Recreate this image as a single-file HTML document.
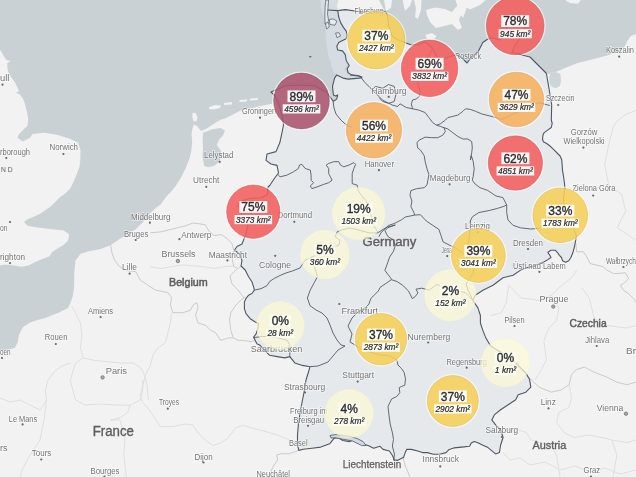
<!DOCTYPE html><html><head><meta charset="utf-8"><style>html,body{margin:0;padding:0;background:#f2f2f2;overflow:hidden}svg{display:block;filter:blur(0.35px)}text{font-family:"Liberation Sans",sans-serif}</style></head><body>
<svg width="636" height="477" viewBox="0 0 636 477">
<rect width="636" height="477" fill="#c9d1d4"/>
<polygon points="0.0,477.0 0.0,351.4 7.5,350.0 15.0,347.7 17.6,342.6 18.9,335.0 22.6,327.5 30.0,322.5 37.7,320.0 45.3,318.0 57.9,313.0 68.0,308.0 70.4,303.0 73.0,295.6 74.2,285.5 74.2,273.0 75.5,260.4 80.5,254.0 88.0,251.6 100.6,249.0 110.7,245.3 120.0,238.7 127.9,234.0 135.7,229.3 143.6,221.4 149.9,213.6 154.6,208.9 160.9,204.2 166.3,196.4 170.5,192.2 175.7,186.0 181.0,177.6 185.2,169.2 189.4,158.7 191.4,150.3 192.2,141.9 191.5,134.0 192.5,128.0 193.8,124.6 197.0,126.0 201.0,131.0 206.0,129.0 212.0,125.0 220.0,120.0 226.0,118.0 231.0,115.4 240.0,110.8 249.2,108.5 260.7,106.1 268.0,104.5 272.2,103.8 274.0,98.0 271.0,92.0 285.0,86.0 300.0,85.0 315.0,86.0 326.0,92.0 332.5,100.1 333.5,101.2 336.7,99.1 337.7,94.9 335.6,95.9 333.5,94.9 333.0,91.7 332.5,86.5 333.5,82.3 334.6,78.1 336.7,74.9 343.0,78.1 348.2,79.1 353.5,78.6 358.7,78.1 361.9,77.6 361.9,77.0 357.7,75.5 351.4,74.9 348.2,72.8 347.2,68.6 349.3,65.5 347.2,62.3 346.2,60.4 345.3,54.7 342.5,50.9 337.7,50.0 336.8,46.2 338.7,42.5 342.5,40.6 346.2,38.7 347.2,34.9 346.2,31.1 343.4,27.4 340.6,22.6 338.7,17.0 337.7,11.3 337.0,5.0 338.0,0.0 379.0,0.0 384.0,10.0 388.7,25.0 392.0,36.0 396.6,39.3 403.0,41.7 410.8,44.8 418.0,45.0 424.0,42.0 428.0,44.0 432.0,48.0 436.0,55.0 440.0,62.0 446.0,58.0 452.0,56.0 457.6,55.0 462.3,58.2 467.0,63.0 471.8,56.6 478.0,52.0 482.8,42.5 487.5,39.3 492.0,38.0 500.0,40.0 505.0,30.0 510.0,22.0 518.0,20.0 525.0,28.0 520.0,38.0 515.0,45.0 512.0,52.8 520.0,54.5 530.0,57.0 537.0,64.0 542.0,69.0 546.0,73.0 548.8,74.3 557.6,71.3 565.0,68.0 577.6,63.0 590.0,60.0 597.4,58.1 606.4,55.8 615.5,52.8 621.5,49.8 624.5,46.8 627.5,40.8 630.6,36.2 636.0,34.0 636.0,477.0" fill="#f2f2f2"/>
<polygon points="0.0,49.4 3.1,54.7 6.3,59.9 10.5,61.0 7.3,63.0 7.3,67.3 8.4,72.5 11.5,77.7 14.7,82.0 17.8,88.2 18.9,91.4 15.7,92.4 19.9,94.5 23.1,98.7 25.2,105.0 27.3,113.4 28.3,119.7 27.3,126.0 23.1,130.1 18.9,134.3 17.6,137.7 22.6,141.5 30.0,137.7 32.7,134.0 44.0,132.7 57.9,135.0 70.4,139.0 78.0,142.8 80.5,150.0 80.3,160.0 79.5,166.7 77.0,173.4 73.6,181.8 70.3,188.5 65.2,193.6 60.2,196.9 55.2,201.9 50.1,207.0 45.1,210.3 40.1,213.7 33.4,217.0 28.0,219.0 24.0,222.0 28.0,226.0 38.0,227.5 46.8,228.8 55.0,229.5 63.6,230.5 68.6,233.8 69.0,236.0 68.0,240.5 63.6,244.9 56.6,249.1 52.3,252.0 49.5,256.2 42.4,259.0 35.4,261.9 28.3,265.4 21.2,266.8 14.1,265.4 8.5,264.7 2.8,264.7 0.0,265.4" fill="#f2f2f2"/>
<polygon points="203.0,132.7 212.3,129.2 220.4,128.0 225.0,130.4 222.7,136.1 219.2,139.6 216.9,145.3 220.4,150.0 222.0,156.0 219.0,162.0 214.0,166.0 208.0,167.3 204.2,166.1 202.6,156.9 203.0,147.7 202.6,138.4" fill="#c9d1d4"/>
<polygon points="192.5,113.0 195.5,112.7 197.5,117.0 196.5,121.5 193.5,121.0 192.3,117.0" fill="#f2f2f2"/>
<polygon points="209.0,107.0 215.0,105.0 221.0,105.5 220.0,108.0 214.0,109.4 209.0,109.0" fill="#f2f2f2"/>
<polygon points="224.0,103.0 232.0,102.0 232.0,104.5 224.0,105.0" fill="#f2f2f2"/>
<polygon points="239.5,100.0 247.0,99.4 247.0,101.5 239.5,102.0" fill="#f2f2f2"/>
<polygon points="250.0,98.5 258.0,98.0 258.0,100.0 250.0,100.5" fill="#f2f2f2"/>
<polygon points="384.0,0.0 392.0,0.0 391.0,8.0 386.0,11.0" fill="#f2f2f2"/>
<polygon points="402.6,0.0 412.0,0.0 410.0,6.0 405.0,11.0" fill="#f2f2f2"/>
<polygon points="414.0,0.0 421.5,0.0 421.0,10.0 418.0,19.0 415.0,17.0 416.0,8.0" fill="#f2f2f2"/>
<polygon points="426.0,10.0 435.0,7.5 445.0,9.0 452.0,12.0 455.0,8.0 458.0,5.0 462.0,12.0 459.0,20.0 462.0,28.0 458.0,30.0 452.0,24.0 444.0,26.0 436.0,28.0 430.0,22.0 427.0,15.0" fill="#f2f2f2"/>
<polygon points="455.5,0.0 468.7,0.0 466.0,10.0 463.0,18.0 460.0,14.0" fill="#f2f2f2"/>
<polygon points="461.0,0.0 485.7,0.0 480.0,5.0 470.0,9.4 464.0,6.0" fill="#f2f2f2"/>
<polygon points="565.0,0.0 580.8,0.0 578.0,3.8 570.0,3.0" fill="#f2f2f2"/>
<polygon points="425.3,35.0 432.0,33.0 436.6,36.0 434.0,39.6 427.0,39.0" fill="#f2f2f2"/>
<polyline points="508.7,285.3 521.3,297.9 538.9,300.4 551.5,295.3 559.0,287.8 571.6,277.7 576.6,270.2" fill="none" stroke="#dcdcdc" stroke-width="0.9"/>
<polyline points="551.5,295.3 559.0,307.9 556.5,320.5 549.0,328.0 543.9,340.6 546.4,360.0 540.0,372.0 535.0,380.0" fill="none" stroke="#dcdcdc" stroke-width="0.9"/>
<polyline points="581.7,287.8 589.2,297.9 591.7,307.9 594.2,318.0 606.8,325.5 626.9,328.0 636.0,325.5" fill="none" stroke="#dcdcdc" stroke-width="0.9"/>
<polyline points="508.7,285.3 506.2,302.9 501.2,313.0 491.1,315.5" fill="none" stroke="#dcdcdc" stroke-width="0.9"/>
<polyline points="569.1,384.7 571.6,397.3 569.1,407.3 559.0,412.3 556.5,422.4 564.0,432.5 574.1,437.5 589.2,435.0 601.8,437.5 611.8,440.0 626.9,442.5 636.0,440.0" fill="none" stroke="#dcdcdc" stroke-width="0.9"/>
<polyline points="518.8,430.0 526.3,432.5 531.3,440.0 538.9,442.5 551.5,445.0 556.5,455.0 560.0,477.0" fill="none" stroke="#dcdcdc" stroke-width="0.9"/>
<polyline points="611.8,440.0 616.9,455.0 613.0,477.0" fill="none" stroke="#dcdcdc" stroke-width="0.9"/>
<polyline points="636.0,110.3 625.7,114.5 617.3,120.8 613.1,127.1 608.9,143.9 604.7,164.8 608.9,185.8 621.5,194.2 625.7,211.0 617.3,227.7 636.0,240.3" fill="none" stroke="#dcdcdc" stroke-width="0.9"/>
<polyline points="503.0,453.0 510.0,460.0 520.0,458.0 530.0,465.0 545.0,462.0 560.0,470.0 575.0,466.0 590.0,472.0 605.0,468.0 620.0,474.0 636.0,470.0" fill="none" stroke="#dcdcdc" stroke-width="0.9"/>
<polyline points="150.0,266.7 160.7,268.5 171.4,266.7 182.1,264.9 192.8,265.8 203.5,266.7 214.2,268.5 224.9,266.7 233.0,266.0" fill="none" stroke="#dcdcdc" stroke-width="0.9"/>
<polyline points="71.7,306.4 75.5,312.7 80.5,322.8 81.8,335.3 80.5,348.0 83.0,358.0 95.6,360.5 108.2,361.8 120.8,363.0 133.3,363.0 140.9,368.0 144.7,375.6 147.2,385.7 148.4,400.0" fill="none" stroke="#dcdcdc" stroke-width="0.9"/>
<polyline points="83.0,358.0 75.5,363.0 73.0,370.6 70.4,380.6 73.0,390.7 75.5,400.0 85.0,405.0 100.0,404.0 115.0,405.0 130.1,405.2 140.2,400.0 142.7,390.0 142.7,380.0" fill="none" stroke="#dcdcdc" stroke-width="0.9"/>
<polyline points="70.4,363.0 62.9,365.5 55.3,370.6 47.8,380.6 45.3,390.7 46.5,400.0 40.0,410.0 30.0,405.0 20.0,400.0 10.0,402.0 0.0,398.0" fill="none" stroke="#dcdcdc" stroke-width="0.9"/>
<polyline points="171.6,312.7 170.4,322.8 167.9,332.8 165.3,342.9 157.8,347.9 152.8,355.5 150.3,365.5 145.2,375.6 142.7,385.7 140.2,395.7 142.7,402.6 147.7,407.7 152.8,415.2 157.8,422.8 160.3,426.5 172.9,426.5 185.5,424.0 193.0,425.3 198.0,432.8 205.6,440.4 213.1,445.4 220.7,442.9 228.2,437.9 235.8,427.8 243.3,425.3 250.9,427.8 260.9,430.3 270.0,432.8 280.0,436.0 290.0,440.0" fill="none" stroke="#dcdcdc" stroke-width="0.9"/>
<polyline points="130.1,405.2 127.6,412.7 120.1,417.7 110.0,420.3 120.0,420.0 125.0,438.0 123.8,455.5 126.4,477.0" fill="none" stroke="#dcdcdc" stroke-width="0.9"/>
<polyline points="46.5,400.0 44.0,420.0 40.0,440.0 30.0,455.0 22.0,470.0 20.0,477.0" fill="none" stroke="#dcdcdc" stroke-width="0.9"/>
<polyline points="150.0,232.8 160.7,231.9 171.4,229.3 178.5,227.5 185.7,225.7 192.8,223.0 199.9,223.9 205.3,224.8 208.8,231.0 214.2,235.5 221.3,234.6 226.6,238.2 232.0,243.5 233.8,250.7 232.0,257.8 233.8,266.7 237.0,268.0" fill="none" stroke="#cbcbcb" stroke-width="1"/>
<polyline points="110.7,245.3 112.0,253.0 114.5,260.0 119.5,266.7 125.8,270.4 135.8,271.7 140.2,280.0 147.7,285.0 155.3,290.0 167.9,292.6 171.6,297.6 170.4,305.2 172.9,312.7 183.0,312.7 190.5,310.2 193.0,305.2 196.8,302.6 198.0,307.7 195.5,315.2 198.0,322.8 205.6,325.3 210.6,330.3 215.7,332.8 220.7,340.4 228.2,337.9 233.3,337.9 238.3,340.4 243.3,340.4 250.9,341.6 255.9,340.4" fill="none" stroke="#cbcbcb" stroke-width="1"/>
<polyline points="233.3,337.9 230.8,330.3 229.5,320.3 230.8,312.7 235.8,305.2 240.8,300.1 245.8,297.0" fill="none" stroke="#cbcbcb" stroke-width="1"/>
<polyline points="241.0,266.0 236.0,270.0 230.0,276.0 232.0,284.0 238.0,290.0 244.0,298.0" fill="none" stroke="#cbcbcb" stroke-width="1"/>
<polyline points="298.8,450.4 289.0,453.8 281.5,453.8 276.5,455.0 277.8,460.0 274.0,465.0 271.5,470.0 269.0,477.0" fill="none" stroke="#cbcbcb" stroke-width="1"/>
<polyline points="575.8,243.0 576.7,251.8 583.4,251.8 586.8,256.8 590.1,263.5 596.8,265.2 603.5,266.8 606.9,270.2 613.6,273.5 618.6,273.5 625.3,272.7 628.6,278.6 623.6,283.6 620.3,285.3 623.6,290.3 628.6,293.6 633.7,298.7 636.0,302.0" fill="none" stroke="#cbcbcb" stroke-width="1"/>
<polyline points="530.8,387.2 528.8,377.1 538.9,387.2 551.5,392.2 561.5,389.7 569.1,384.7 571.6,374.6 576.6,369.6 584.2,367.1 594.2,372.1 606.8,377.1 616.9,382.2 626.9,384.7 636.0,382.2" fill="none" stroke="#cbcbcb" stroke-width="1"/>
<polyline points="402.3,454.8 405.0,465.0 410.0,477.0" fill="none" stroke="#cbcbcb" stroke-width="1"/>
<polygon points="320.5,0.0 338.0,0.0 337.0,5.0 337.7,11.3 338.7,17.0 340.6,22.6 343.4,27.4 346.2,31.1 347.2,34.9 346.2,38.7 342.5,40.6 338.7,42.5 336.8,46.2 337.7,50.0 342.5,50.9 345.3,54.7 346.2,60.4 347.2,64.2 345.3,67.0 344.3,69.8 346.2,72.6 350.0,75.5 357.7,75.5 361.9,77.6 353.5,78.6 343.0,78.1 336.7,74.9 333.0,71.0 330.4,62.0 328.0,55.0 326.0,40.0 324.5,20.0 321.0,8.0" fill="#d5dce2"/>
<ellipse cx="310.3" cy="56.8" rx="1.3" ry="0.8" fill="#5a6470"/>
<polygon points="325.8,0.0 328.5,0.0 328.0,8.0 327.5,14.0 328.5,20.0 327.0,26.0 325.0,24.0 324.8,15.0 325.2,6.0" fill="#e8ecf0" stroke="#4d5865" stroke-width="0.7"/>
<polygon points="329.3,19.5 333.0,18.9 336.9,21.0 335.0,25.2 330.0,24.5" fill="#e8ecf0" stroke="#4d5865" stroke-width="0.7"/>
<polygon points="325.5,23.0 328.5,22.6 329.3,27.0 326.5,29.0" fill="#e8ecf0" stroke="#4d5865" stroke-width="0.7"/>
<polygon points="335.6,33.0 339.0,32.7 340.6,36.0 337.0,37.7" fill="#e8ecf0" stroke="#4d5865" stroke-width="0.7"/>
<polygon points="328.0,10.0 337.7,10.6 345.3,9.6 356.6,11.3 362.3,12.3 371.7,11.3 381.0,10.6 386.0,12.0 387.5,16.0 388.7,25.0 392.0,36.0 396.6,39.3 403.0,41.7 410.8,44.8 418.0,45.0 424.0,42.0 428.0,44.0 432.0,48.0 436.0,55.0 440.0,62.0 446.0,58.0 452.0,56.0 457.6,55.0 462.3,58.2 467.0,63.0 471.8,56.6 478.0,52.0 482.8,42.5 487.5,39.3 492.0,38.0 500.0,40.0 505.0,30.0 510.0,22.0 518.0,20.0 525.0,28.0 520.0,38.0 515.0,45.0 512.0,52.8 520.0,54.5 530.0,57.0 537.0,64.0 542.0,69.0 546.0,73.0 546.5,74.0 548.8,87.4 551.7,105.0 551.3,120.0 552.2,123.4 551.3,127.5 547.6,130.1 544.2,132.6 543.0,135.1 542.5,139.3 543.4,141.8 546.7,143.5 550.9,146.8 554.3,150.2 557.6,153.5 560.1,156.0 561.8,160.0 562.5,170.4 563.8,178.0 565.0,188.0 563.5,197.6 564.0,206.0 566.0,215.0 573.4,227.2 576.3,235.9 575.6,240.7 574.6,246.0 573.0,252.3 570.9,257.5 568.8,260.7 565.7,262.3 562.5,260.7 561.5,257.5 559.4,255.4 557.3,252.3 555.2,250.2 551.0,250.2 547.8,252.3 549.9,255.4 551.0,257.5 547.8,259.6 542.6,262.8 536.3,264.9 530.0,267.0 526.0,268.0 520.6,270.1 513.1,275.2 503.0,277.7 498.0,281.5 493.0,285.2 482.9,290.3 475.3,295.3 472.8,300.3 477.9,307.9 480.4,315.5 480.4,323.0 482.9,330.6 485.4,336.9 490.4,345.7 498.0,350.6 510.7,358.0 518.2,365.6 525.8,373.0 529.6,379.6 530.8,387.2 525.8,392.2 518.2,394.7 515.7,399.8 508.2,404.8 500.6,409.8 494.3,414.9 491.8,419.9 495.6,424.9 500.6,430.0 503.1,437.5 500.6,445.0 499.4,452.6 495.6,453.9 488.0,447.6 483.0,445.3 478.4,443.0 474.3,441.6 471.2,443.1 469.6,446.3 461.8,447.1 453.9,447.9 449.2,449.4 446.0,452.6 439.7,454.2 433.5,454.2 427.2,452.6 422.5,452.6 417.7,451.0 411.4,449.4 406.7,449.4 405.2,452.6 403.6,457.3 397.3,460.4 394.2,459.7 392.6,455.7 389.4,451.0 383.1,449.4 380.0,446.3 373.6,448.2 369.2,446.0 362.6,443.8 356.0,439.4 349.4,441.6 342.8,440.5 338.4,437.7 334.0,438.3 329.6,443.8 320.8,447.1 312.0,448.2 303.2,449.3 298.8,450.4 297.5,445.0 297.5,435.0 298.4,424.0 300.0,413.0 302.1,402.0 304.3,391.0 306.0,380.0 308.5,372.0 310.0,366.7 302.4,365.4 294.8,362.9 289.8,356.6 284.8,357.9 277.2,356.6 269.7,355.3 264.7,350.3 259.6,345.0 256.9,343.8 255.3,340.5 253.6,337.1 256.1,333.8 257.8,328.7 258.6,323.7 255.3,322.0 250.2,318.7 246.0,313.6 244.4,308.6 244.4,301.9 246.0,298.5 248.6,295.2 251.9,293.5 254.4,290.1 253.6,286.8 251.9,281.7 248.6,276.7 245.2,270.0 241.0,266.0 242.0,260.4 239.5,254.0 234.5,250.3 237.0,246.5 242.0,244.0 244.1,238.6 246.0,233.6 247.9,224.8 242.0,215.0 238.0,205.0 241.6,200.9 249.2,198.4 261.7,197.7 267.4,194.6 268.0,187.0 269.7,185.5 274.7,178.0 278.5,173.0 277.0,165.4 271.0,164.0 266.0,160.4 267.0,154.0 276.0,151.6 279.8,142.8 282.0,132.7 283.5,125.0 282.0,115.0 279.0,105.0 275.0,96.0 271.0,92.0 285.0,86.0 300.0,85.0 315.0,86.0 326.0,92.0 332.5,100.1 333.5,101.2 336.7,99.1 337.7,94.9 335.6,95.9 333.5,94.9 333.0,91.7 332.5,86.5 333.5,82.3 334.6,78.1 336.7,74.9 343.0,78.1 348.2,79.1 353.5,78.6 358.7,78.1 361.9,77.6 361.9,77.0 357.7,75.5 351.4,74.9 348.2,72.8 347.2,68.6 349.3,65.5 347.2,62.3 346.2,60.4 345.3,54.7 342.5,50.9 337.7,50.0 336.8,46.2 338.7,42.5 342.5,40.6 346.2,38.7 347.2,34.9 346.2,31.1 343.4,27.4 340.6,22.6 338.7,17.0 337.7,10.6 328.0,10.0" fill="#e6e9ec" stroke="#4d5865" stroke-width="1.1" stroke-linejoin="round"/>
<polygon points="551,72.6 556,72 560.4,74 561,80 560,86 556,88.3 552,87 549.5,84 549,78" fill="#cdd5d9"/>
<polygon points="330,435.5 336,434.5 343,435.5 350,436.5 357,438.5 363,441.5 366,445.5 361.8,445.6 352.3,440.9 342.9,439.3 335,437.7 331,438" fill="#d3dae0" stroke="#4d5865" stroke-width="0.8"/>
<polyline points="350.0,75.0 360.0,76.3 365.0,82.6 370.0,87.6 375.1,92.6 378.9,96.4 382.6,100.2 387.7,102.7 392.7,105.2 397.7,106.5 400.0,103.8 406.3,107.5 412.6,108.8 418.9,110.1 425.2,112.6 428.9,117.6 432.7,122.6 436.5,125.2 440.3,126.4 444.0,127.7 447.8,128.9 452.8,132.7 457.9,136.5 462.9,139.0 467.9,139.0 471.7,141.5 472.3,147.8 471.7,152.8 470.4,160.0 471.3,155.7 473.2,161.3 474.2,168.9 473.2,176.4 472.3,180.2 475.1,184.0 480.0,187.7 487.6,190.4 496.0,196.0 502.9,197.6 506.7,205.0 506.7,212.7 508.0,220.0 513.0,225.3 520.5,227.8 530.6,229.0 539.7,228.4 548.0,220.0 556.0,210.0 562.0,203.0" fill="none" stroke="#515b67" stroke-width="0.9" stroke-linejoin="round"/>
<polyline points="372.0,90.0 375.3,86.4 382.8,88.3 388.5,84.5 394.2,86.4 396.0,94.0 394.2,101.5 388.5,103.4 382.8,101.5 379.1,97.7" fill="none" stroke="#515b67" stroke-width="0.9" stroke-linejoin="round"/>
<polyline points="333.0,101.0 334.0,108.0 336.0,114.0 340.0,119.0 344.0,123.0 348.0,126.0 352.0,127.0" fill="none" stroke="#515b67" stroke-width="0.9" stroke-linejoin="round"/>
<polyline points="412.6,108.8 411.3,103.8 412.6,100.0 416.6,98.9 419.1,96.4 420.4,92.6 419.1,87.6 417.9,83.8 417.2,80.0 420.0,72.0 425.0,62.0 432.0,50.0" fill="none" stroke="#515b67" stroke-width="0.9" stroke-linejoin="round"/>
<polyline points="436.5,125.2 440.3,123.9 445.3,120.1 447.8,117.6 452.8,116.4 457.9,115.1 462.9,111.3 465.4,108.8 470.4,109.4 475.5,111.3 481.9,114.0 493.2,116.8 501.7,119.6 513.0,114.0 527.2,108.3 538.5,102.6 549.8,105.5" fill="none" stroke="#515b67" stroke-width="0.9" stroke-linejoin="round"/>
<polyline points="444.0,127.7 445.3,131.4 442.8,135.2 437.7,137.7 431.4,137.7 425.2,137.1 418.9,140.3 417.0,142.8 417.6,147.8 420.4,150.0 424.2,155.7 425.1,161.3 427.0,168.9 428.9,174.5 427.9,180.2 427.0,184.9 424.2,187.7 416.6,188.7 410.9,190.6 410.0,195.3 411.9,201.0 410.9,206.6 413.8,212.3 414.7,215.1" fill="none" stroke="#515b67" stroke-width="0.9" stroke-linejoin="round"/>
<polyline points="414.7,215.1 405.3,217.0 401.5,219.8 394.0,223.6 388.3,225.5 384.5,229.2 380.8,233.0 378.9,236.8" fill="none" stroke="#515b67" stroke-width="0.9" stroke-linejoin="round"/>
<polyline points="414.7,215.1 420.4,214.7 426.3,221.0 432.6,225.2 438.9,229.4 441.0,235.6 443.1,241.9 451.4,246.1 455.6,248.2 461.9,252.4 467.0,258.0 472.0,266.0 474.0,272.0 470.0,278.0 466.0,284.0 468.0,290.0 472.8,300.3" fill="none" stroke="#515b67" stroke-width="0.9" stroke-linejoin="round"/>
<polyline points="506.5,205.0 503.9,206.3 497.6,208.4 489.2,210.5 478.7,212.6 472.4,216.8 470.3,221.0 470.5,228.0 469.5,236.0 468.0,244.0 467.0,252.0 467.0,258.0" fill="none" stroke="#515b67" stroke-width="0.9" stroke-linejoin="round"/>
<polyline points="277.5,174.0 278.4,175.2 280.1,176.8 286.8,175.2 293.5,171.8 298.5,168.5 299.4,165.1 301.9,164.3 305.2,168.5 310.3,170.1 311.1,175.2 311.1,180.2 313.6,182.7 310.3,186.1 311.9,188.6 317.0,186.9 323.7,184.4 328.7,182.7 332.1,180.2 330.4,176.8 328.7,173.5 328.7,168.5 326.2,165.1 328.7,163.4 333.8,161.7 338.8,161.7 340.5,165.1 343.8,166.8 348.9,165.1 353.9,162.6 355.6,164.3 353.9,168.5 352.2,173.5 352.2,178.5 352.2,183.6 357.2,185.2 358.1,190.3 361.4,195.3 365.6,200.3 370.0,210.0 372.0,220.0 374.5,226.9 378.3,232.5 384.0,228.8 387.7,226.9 395.3,225.0" fill="none" stroke="#515b67" stroke-width="0.9" stroke-linejoin="round"/>
<polyline points="377.8,232.8 370.0,233.0 362.0,231.0 355.0,229.0 349.0,228.0 343.0,229.5 337.5,231.5 335.0,236.6 340.0,240.4 338.8,245.4 333.7,246.6 325.0,250.0 316.0,255.0 310.0,258.0 305.0,260.4 300.0,268.0 292.3,271.0 286.0,273.0 280.0,275.5 274.3,278.4 269.9,281.3 266.9,285.7 261.0,288.7 254.4,290.1" fill="none" stroke="#515b67" stroke-width="0.9" stroke-linejoin="round"/>
<polyline points="395.3,225.0 387.7,227.8 384.9,230.7 387.7,236.3 393.4,240.1 395.3,245.8 393.4,251.4 389.6,257.1 387.7,262.7 384.9,270.3 387.7,274.1 390.6,277.8 391.5,279.7 385.8,283.5 380.2,287.3 378.3,291.0 374.5,294.8 370.8,298.6 368.9,304.2 365.0,308.0 358.0,312.0 352.0,318.0 348.0,326.0 352.0,334.0 350.0,342.0" fill="none" stroke="#515b67" stroke-width="0.9" stroke-linejoin="round"/>
<polyline points="391.5,279.7 397.2,281.6 402.8,285.4 408.5,291.0 410.4,294.8 412.3,298.6 415.1,296.7 417.9,292.9 416.0,289.2 421.7,288.2 425.5,289.2 429.2,290.1 433.0,287.3 436.8,284.4 445.0,288.0 455.0,290.0 465.4,292.7 470.4,297.7 472.7,300.0" fill="none" stroke="#515b67" stroke-width="0.9" stroke-linejoin="round"/>
<polyline points="310.0,258.0 314.9,268.0 317.4,276.8 314.0,283.0 310.0,290.6 307.4,298.0 310.0,305.7 316.0,310.0 322.0,313.0 327.0,318.0 330.0,325.0 333.0,333.0 337.0,340.0 341.0,345.0 345.0,346.0" fill="none" stroke="#515b67" stroke-width="0.9" stroke-linejoin="round"/>
<polyline points="345.0,346.0 338.0,350.0 333.0,356.0 328.0,362.0 318.0,366.0 310.0,366.7" fill="none" stroke="#515b67" stroke-width="0.9" stroke-linejoin="round"/>
<polyline points="253.3,337.7 262.0,336.5 267.2,336.5 277.2,337.7 287.3,340.3 289.8,345.3 289.8,356.6" fill="none" stroke="#515b67" stroke-width="0.9" stroke-linejoin="round"/>
<polyline points="350.0,342.0 360.0,348.0 370.0,352.0 380.0,355.0 390.0,356.0 396.7,360.0 398.0,365.0 401.7,368.8 404.2,372.6 405.5,378.9 404.8,385.2 401.7,386.4 399.2,387.7 399.8,392.7 396.7,396.5 391.6,399.0 388.0,406.4 389.0,415.2 390.2,424.0 392.4,432.8 393.5,439.4 392.4,446.0 394.6,454.8 393.5,460.3" fill="none" stroke="#515b67" stroke-width="0.9" stroke-linejoin="round"/>
<text x="0.0" y="80.5" font-size="9.2" fill="#747474" stroke="#fff" stroke-opacity="0.55" stroke-width="1.6" paint-order="stroke" textLength="9.4" lengthAdjust="spacingAndGlyphs">ull</text>
<circle cx="2.5" cy="84.7" r="1.1" fill="#666"/>
<text x="0.0" y="154.6" font-size="9.2" fill="#747474" stroke="#fff" stroke-opacity="0.55" stroke-width="1.6" paint-order="stroke" textLength="30.0" lengthAdjust="spacingAndGlyphs">rborough</text>
<circle cx="6.3" cy="158" r="1.1" fill="#666"/>
<text x="49.5" y="150.1" font-size="9.2" fill="#747474" stroke="#fff" stroke-opacity="0.55" stroke-width="1.6" paint-order="stroke" textLength="28.5" lengthAdjust="spacingAndGlyphs">Norwich</text>
<circle cx="63.4" cy="154" r="1.1" fill="#666"/>
<text x="0.0" y="230.6" font-size="9.2" fill="#747474" stroke="#fff" stroke-opacity="0.55" stroke-width="1.6" paint-order="stroke" textLength="7.5" lengthAdjust="spacingAndGlyphs">on</text>
<circle cx="10" cy="222" r="1.1" fill="#666"/>
<text x="0.0" y="259.6" font-size="9.2" fill="#747474" stroke="#fff" stroke-opacity="0.55" stroke-width="1.6" paint-order="stroke" textLength="25.0" lengthAdjust="spacingAndGlyphs">righton</text>
<circle cx="10" cy="263" r="1.1" fill="#666"/>
<text x="131.0" y="219.5" font-size="9.2" fill="#747474" stroke="#fff" stroke-opacity="0.55" stroke-width="1.6" paint-order="stroke" textLength="39.3" lengthAdjust="spacingAndGlyphs">Middelburg</text>
<circle cx="149.9" cy="222.7" r="1.1" fill="#666"/>
<text x="123.9" y="236.8" font-size="9.2" fill="#747474" stroke="#fff" stroke-opacity="0.55" stroke-width="1.6" paint-order="stroke" textLength="24.4" lengthAdjust="spacingAndGlyphs">Bruges</text>
<circle cx="135.7" cy="240" r="1.1" fill="#666"/>
<text x="181.3" y="237.6" font-size="9.2" fill="#747474" stroke="#fff" stroke-opacity="0.55" stroke-width="1.6" paint-order="stroke" textLength="29.9" lengthAdjust="spacingAndGlyphs">Antwerp</text>
<circle cx="179.4" cy="239.2" r="1.1" fill="#666"/>
<text x="122.0" y="269.6" font-size="9.2" fill="#747474" stroke="#fff" stroke-opacity="0.55" stroke-width="1.6" paint-order="stroke" textLength="15.0" lengthAdjust="spacingAndGlyphs">Lille</text>
<circle cx="129.6" cy="273.7" r="1.1" fill="#666"/>
<text x="161.5" y="257.0" font-size="9.2" fill="#747474" stroke="#fff" stroke-opacity="0.55" stroke-width="1.6" paint-order="stroke" textLength="34.0" lengthAdjust="spacingAndGlyphs">Brussels</text>
<circle cx="177.9" cy="261" r="1.7" fill="#aaa" stroke="#666" stroke-width="0.7"/>
<text x="208.8" y="257.6" font-size="9.2" fill="#747474" stroke="#fff" stroke-opacity="0.55" stroke-width="1.6" paint-order="stroke" textLength="38.2" lengthAdjust="spacingAndGlyphs">Maastricht</text>
<circle cx="227.4" cy="260.4" r="1.1" fill="#666"/>
<text x="88.0" y="313.6" font-size="9.2" fill="#747474" stroke="#fff" stroke-opacity="0.55" stroke-width="1.6" paint-order="stroke" textLength="25.0" lengthAdjust="spacingAndGlyphs">Amiens</text>
<circle cx="100.6" cy="317" r="1.1" fill="#666"/>
<text x="44.8" y="339.6" font-size="9.2" fill="#747474" stroke="#fff" stroke-opacity="0.55" stroke-width="1.6" paint-order="stroke" textLength="22.6" lengthAdjust="spacingAndGlyphs">Rouen</text>
<circle cx="55.8" cy="344" r="1.1" fill="#666"/>
<text x="0.0" y="354.6" font-size="9.2" fill="#747474" stroke="#fff" stroke-opacity="0.55" stroke-width="1.6" paint-order="stroke" textLength="10.6" lengthAdjust="spacingAndGlyphs">oen</text>
<circle cx="2" cy="358" r="1.1" fill="#666"/>
<text x="105.7" y="374.4" font-size="9.2" fill="#747474" stroke="#fff" stroke-opacity="0.55" stroke-width="1.6" paint-order="stroke" textLength="21.3" lengthAdjust="spacingAndGlyphs">Paris</text>
<circle cx="102.6" cy="377.4" r="1.7" fill="#aaa" stroke="#666" stroke-width="0.7"/>
<text x="8.8" y="421.6" font-size="9.2" fill="#747474" stroke="#fff" stroke-opacity="0.55" stroke-width="1.6" paint-order="stroke" textLength="28.4" lengthAdjust="spacingAndGlyphs">Le Mans</text>
<circle cx="22.6" cy="424.4" r="1.1" fill="#666"/>
<text x="31.8" y="455.6" font-size="9.2" fill="#747474" stroke="#fff" stroke-opacity="0.55" stroke-width="1.6" paint-order="stroke" textLength="19.5" lengthAdjust="spacingAndGlyphs">Tours</text>
<circle cx="41.25" cy="459.5" r="1.1" fill="#666"/>
<text x="0.0" y="450.6" font-size="9.2" fill="#747474" stroke="#fff" stroke-opacity="0.55" stroke-width="1.6" paint-order="stroke" textLength="7.5" lengthAdjust="spacingAndGlyphs">rs</text>
<text x="90.5" y="473.6" font-size="9.2" fill="#747474" stroke="#fff" stroke-opacity="0.55" stroke-width="1.6" paint-order="stroke" textLength="29.0" lengthAdjust="spacingAndGlyphs">Bourges</text>
<circle cx="104.5" cy="476.5" r="1.1" fill="#666"/>
<text x="159.0" y="405.3" font-size="9.2" fill="#747474" stroke="#fff" stroke-opacity="0.55" stroke-width="1.6" paint-order="stroke" textLength="20.0" lengthAdjust="spacingAndGlyphs">Troyes</text>
<circle cx="167.8" cy="408.7" r="1.1" fill="#666"/>
<text x="194.5" y="459.6" font-size="9.2" fill="#747474" stroke="#fff" stroke-opacity="0.55" stroke-width="1.6" paint-order="stroke" textLength="18.2" lengthAdjust="spacingAndGlyphs">Dijon</text>
<circle cx="203.5" cy="462.5" r="1.1" fill="#666"/>
<text x="256.5" y="477.1" font-size="9.2" fill="#747474" stroke="#fff" stroke-opacity="0.55" stroke-width="1.6" paint-order="stroke" textLength="33.5" lengthAdjust="spacingAndGlyphs">Neuchâtel</text>
<text x="289.0" y="445.6" font-size="9.2" fill="#747474" stroke="#fff" stroke-opacity="0.55" stroke-width="1.6" paint-order="stroke" textLength="18.6" lengthAdjust="spacingAndGlyphs">Basel</text>
<text x="290.0" y="413.6" font-size="9.2" fill="#747474" stroke="#fff" stroke-opacity="0.55" stroke-width="1.6" paint-order="stroke" textLength="37.4" lengthAdjust="spacingAndGlyphs">Freiburg im</text>
<text x="293.3" y="422.6" font-size="9.2" fill="#747474" stroke="#fff" stroke-opacity="0.55" stroke-width="1.6" paint-order="stroke" textLength="30.8" lengthAdjust="spacingAndGlyphs">Breisgau</text>
<circle cx="308" cy="425.8" r="1.1" fill="#666"/>
<text x="284.0" y="389.6" font-size="9.2" fill="#747474" stroke="#fff" stroke-opacity="0.55" stroke-width="1.6" paint-order="stroke" textLength="41.2" lengthAdjust="spacingAndGlyphs">Strasbourg</text>
<circle cx="305" cy="392.5" r="1.1" fill="#666"/>
<text x="250.8" y="352.4" font-size="9.2" fill="#747474" stroke="#fff" stroke-opacity="0.55" stroke-width="1.6" paint-order="stroke" textLength="51.6" lengthAdjust="spacingAndGlyphs">Saarbrücken</text>
<text x="259.0" y="267.6" font-size="9.2" fill="#747474" stroke="#fff" stroke-opacity="0.55" stroke-width="1.6" paint-order="stroke" textLength="32.0" lengthAdjust="spacingAndGlyphs">Cologne</text>
<circle cx="275.2" cy="255.8" r="1.1" fill="#666"/>
<text x="277.6" y="217.6" font-size="9.2" fill="#747474" stroke="#fff" stroke-opacity="0.55" stroke-width="1.6" paint-order="stroke" textLength="34.4" lengthAdjust="spacingAndGlyphs">Dortmund</text>
<circle cx="294.3" cy="221.8" r="1.1" fill="#666"/>
<text x="242.0" y="114.1" font-size="9.2" fill="#747474" stroke="#fff" stroke-opacity="0.55" stroke-width="1.6" paint-order="stroke" textLength="34.0" lengthAdjust="spacingAndGlyphs">Groningen</text>
<circle cx="260" cy="117.7" r="1.1" fill="#666"/>
<text x="204.0" y="158.3" font-size="9.2" fill="#747474" stroke="#fff" stroke-opacity="0.55" stroke-width="1.6" paint-order="stroke" textLength="29.4" lengthAdjust="spacingAndGlyphs">Lelystad</text>
<circle cx="219.7" cy="161.8" r="1.1" fill="#666"/>
<text x="193.0" y="182.6" font-size="9.2" fill="#747474" stroke="#fff" stroke-opacity="0.55" stroke-width="1.6" paint-order="stroke" textLength="26.4" lengthAdjust="spacingAndGlyphs">Utrecht</text>
<circle cx="206.3" cy="186.8" r="1.1" fill="#666"/>
<text x="364.7" y="166.6" font-size="9.2" fill="#747474" stroke="#fff" stroke-opacity="0.55" stroke-width="1.6" paint-order="stroke" textLength="29.3" lengthAdjust="spacingAndGlyphs">Hanover</text>
<circle cx="378.9" cy="170.2" r="1.1" fill="#666"/>
<text x="371.3" y="93.5" font-size="9.2" fill="#747474" stroke="#fff" stroke-opacity="0.55" stroke-width="1.6" paint-order="stroke" textLength="35.2" lengthAdjust="spacingAndGlyphs">Hamburg</text>
<circle cx="388.7" cy="96.8" r="1.1" fill="#666"/>
<text x="354.5" y="14.4" font-size="9.2" fill="#747474" stroke="#fff" stroke-opacity="0.55" stroke-width="1.6" paint-order="stroke" textLength="28.5" lengthAdjust="spacingAndGlyphs">Flensburg</text>
<text x="455.0" y="59.1" font-size="9.2" fill="#747474" stroke="#fff" stroke-opacity="0.55" stroke-width="1.6" paint-order="stroke" textLength="26.0" lengthAdjust="spacingAndGlyphs">Rostock</text>
<text x="429.8" y="180.7" font-size="9.2" fill="#747474" stroke="#fff" stroke-opacity="0.55" stroke-width="1.6" paint-order="stroke" textLength="40.6" lengthAdjust="spacingAndGlyphs">Magdeburg</text>
<circle cx="449.6" cy="184.3" r="1.1" fill="#666"/>
<text x="465.0" y="228.6" font-size="9.2" fill="#747474" stroke="#fff" stroke-opacity="0.55" stroke-width="1.6" paint-order="stroke" textLength="25.0" lengthAdjust="spacingAndGlyphs">Leipzig</text>
<circle cx="477.7" cy="232.3" r="1.1" fill="#666"/>
<text x="513.0" y="246.3" font-size="9.2" fill="#747474" stroke="#fff" stroke-opacity="0.55" stroke-width="1.6" paint-order="stroke" textLength="30.0" lengthAdjust="spacingAndGlyphs">Dresden</text>
<circle cx="528" cy="249" r="1.1" fill="#666"/>
<text x="441.5" y="252.9" font-size="9.2" fill="#747474" stroke="#fff" stroke-opacity="0.55" stroke-width="1.6" paint-order="stroke" textLength="10.4" lengthAdjust="spacingAndGlyphs">Jena</text>
<circle cx="447.2" cy="256.1" r="1.1" fill="#666"/>
<text x="341.4" y="313.6" font-size="9.2" fill="#747474" stroke="#fff" stroke-opacity="0.55" stroke-width="1.6" paint-order="stroke" textLength="36.6" lengthAdjust="spacingAndGlyphs">Frankfurt</text>
<circle cx="339.3" cy="304" r="1.1" fill="#666"/>
<text x="407.5" y="339.6" font-size="9.2" fill="#747474" stroke="#fff" stroke-opacity="0.55" stroke-width="1.6" paint-order="stroke" textLength="42.8" lengthAdjust="spacingAndGlyphs">Nuremberg</text>
<circle cx="428.2" cy="342.5" r="1.1" fill="#666"/>
<text x="342.3" y="377.8" font-size="9.2" fill="#747474" stroke="#fff" stroke-opacity="0.55" stroke-width="1.6" paint-order="stroke" textLength="31.7" lengthAdjust="spacingAndGlyphs">Stuttgart</text>
<circle cx="357.7" cy="381.6" r="1.1" fill="#666"/>
<text x="446.5" y="365.3" font-size="9.2" fill="#747474" stroke="#fff" stroke-opacity="0.55" stroke-width="1.6" paint-order="stroke" textLength="40.3" lengthAdjust="spacingAndGlyphs">Regensburg</text>
<circle cx="466.7" cy="367.7" r="1.1" fill="#666"/>
<text x="485.5" y="433.3" font-size="9.2" fill="#747474" stroke="#fff" stroke-opacity="0.55" stroke-width="1.6" paint-order="stroke" textLength="32.7" lengthAdjust="spacingAndGlyphs">Salzburg</text>
<circle cx="501.9" cy="437" r="1.1" fill="#666"/>
<text x="422.6" y="462.3" font-size="9.2" fill="#747474" stroke="#fff" stroke-opacity="0.55" stroke-width="1.6" paint-order="stroke" textLength="36.4" lengthAdjust="spacingAndGlyphs">Innsbruck</text>
<circle cx="440.3" cy="466.4" r="1.1" fill="#666"/>
<text x="540.7" y="404.9" font-size="9.2" fill="#747474" stroke="#fff" stroke-opacity="0.55" stroke-width="1.6" paint-order="stroke" textLength="15.1" lengthAdjust="spacingAndGlyphs">Linz</text>
<circle cx="548.5" cy="408.4" r="1.1" fill="#666"/>
<text x="596.7" y="411.2" font-size="9.2" fill="#747474" stroke="#fff" stroke-opacity="0.55" stroke-width="1.6" paint-order="stroke" textLength="26.6" lengthAdjust="spacingAndGlyphs">Vienna</text>
<circle cx="626" cy="413.7" r="1.7" fill="#aaa" stroke="#666" stroke-width="0.7"/>
<text x="583.5" y="473.0" font-size="9.2" fill="#747474" stroke="#fff" stroke-opacity="0.55" stroke-width="1.6" paint-order="stroke" textLength="16.5" lengthAdjust="spacingAndGlyphs">Graz</text>
<circle cx="591" cy="476.6" r="1.1" fill="#666"/>
<text x="539.5" y="302.2" font-size="9.2" fill="#747474" stroke="#fff" stroke-opacity="0.55" stroke-width="1.6" paint-order="stroke" textLength="28.9" lengthAdjust="spacingAndGlyphs">Prague</text>
<circle cx="553.3" cy="306.6" r="1.7" fill="#aaa" stroke="#666" stroke-width="0.7"/>
<text x="504.4" y="322.6" font-size="9.2" fill="#747474" stroke="#fff" stroke-opacity="0.55" stroke-width="1.6" paint-order="stroke" textLength="20.1" lengthAdjust="spacingAndGlyphs">Pilsen</text>
<circle cx="514.5" cy="326" r="1.1" fill="#666"/>
<text x="585.2" y="342.5" font-size="9.2" fill="#747474" stroke="#fff" stroke-opacity="0.55" stroke-width="1.6" paint-order="stroke" textLength="24.1" lengthAdjust="spacingAndGlyphs">Jihlava</text>
<circle cx="596.7" cy="346" r="1.1" fill="#666"/>
<text x="626.0" y="354.0" font-size="9.2" fill="#747474" stroke="#fff" stroke-opacity="0.55" stroke-width="1.6" paint-order="stroke" textLength="10.0" lengthAdjust="spacingAndGlyphs">Br</text>
<text x="513.0" y="268.9" font-size="9.2" fill="#747474" stroke="#fff" stroke-opacity="0.55" stroke-width="1.6" paint-order="stroke" textLength="52.8" lengthAdjust="spacingAndGlyphs">Ústí nad Labem</text>
<circle cx="539.4" cy="271.8" r="1.1" fill="#666"/>
<text x="605.9" y="263.6" font-size="9.2" fill="#747474" stroke="#fff" stroke-opacity="0.55" stroke-width="1.6" paint-order="stroke" textLength="30.1" lengthAdjust="spacingAndGlyphs">Wałbrzych</text>
<circle cx="623.4" cy="267" r="1.1" fill="#666"/>
<text x="572.6" y="191.4" font-size="9.2" fill="#747474" stroke="#fff" stroke-opacity="0.55" stroke-width="1.6" paint-order="stroke" textLength="42.8" lengthAdjust="spacingAndGlyphs">Zielona Góra</text>
<circle cx="593.2" cy="195.6" r="1.1" fill="#666"/>
<text x="570.8" y="135.4" font-size="9.2" fill="#747474" stroke="#fff" stroke-opacity="0.55" stroke-width="1.6" paint-order="stroke" textLength="26.4" lengthAdjust="spacingAndGlyphs">Gorzów</text>
<text x="563.5" y="144.2" font-size="9.2" fill="#747474" stroke="#fff" stroke-opacity="0.55" stroke-width="1.6" paint-order="stroke" textLength="41.0" lengthAdjust="spacingAndGlyphs">Wielkopolski</text>
<circle cx="583.4" cy="147.6" r="1.1" fill="#666"/>
<text x="546.0" y="101.1" font-size="9.2" fill="#747474" stroke="#fff" stroke-opacity="0.55" stroke-width="1.6" paint-order="stroke" textLength="28.5" lengthAdjust="spacingAndGlyphs">Szczecin</text>
<circle cx="558.2" cy="105" r="1.1" fill="#666"/>
<text x="606.0" y="53.3" font-size="9.2" fill="#747474" stroke="#fff" stroke-opacity="0.55" stroke-width="1.6" paint-order="stroke" textLength="28.0" lengthAdjust="spacingAndGlyphs">Koszalin</text>
<circle cx="619.2" cy="56.7" r="1.1" fill="#666"/>
<text x="362.6" y="245.8" font-size="12" font-weight="normal" fill="#5e5e5e" stroke="#5e5e5e" stroke-width="0.35" textLength="53.8" lengthAdjust="spacingAndGlyphs">Germany</text>
<text x="169.0" y="286.4" font-size="10" font-weight="normal" fill="#5e5e5e" stroke="#5e5e5e" stroke-width="0.5" textLength="38.7" lengthAdjust="spacingAndGlyphs">Belgium</text>
<text x="92.7" y="436.0" font-size="13.8" font-weight="normal" fill="#5e5e5e" stroke="#5e5e5e" stroke-width="0.35" textLength="41.2" lengthAdjust="spacingAndGlyphs">France</text>
<text x="569.5" y="327.2" font-size="10.5" font-weight="normal" fill="#5e5e5e" stroke="#5e5e5e" stroke-width="0.45" textLength="37.1" lengthAdjust="spacingAndGlyphs">Czechia</text>
<text x="532.4" y="448.6" font-size="11.5" font-weight="normal" fill="#5e5e5e" stroke="#5e5e5e" stroke-width="0.35" textLength="33.9" lengthAdjust="spacingAndGlyphs">Austria</text>
<text x="342.8" y="467.5" font-size="10" font-weight="normal" fill="#5e5e5e" stroke="#5e5e5e" stroke-width="0.25" textLength="58.4" lengthAdjust="spacingAndGlyphs">Liechtenstein</text>
<text x="1.0" y="172.0" font-size="7.5" font-weight="normal" fill="#5e5e5e" textLength="11.6" lengthAdjust="spacingAndGlyphs">N D</text>
<circle cx="280.3" cy="325.5" r="23.9" fill="#fcfad4" fill-opacity="0.72" stroke="#f8f6c8" stroke-opacity="0.35" stroke-width="1"/>
<circle cx="505.5" cy="362.6" r="24.2" fill="#fcfad4" fill-opacity="0.72" stroke="#f8f6c8" stroke-opacity="0.35" stroke-width="1"/>
<circle cx="450.4" cy="295.2" r="25.7" fill="#fcfad4" fill-opacity="0.72" stroke="#f8f6c8" stroke-opacity="0.35" stroke-width="1"/>
<circle cx="349.2" cy="413.5" r="24.099999999999998" fill="#fcfad4" fill-opacity="0.72" stroke="#f8f6c8" stroke-opacity="0.35" stroke-width="1"/>
<circle cx="324.9" cy="254.5" r="24.4" fill="#fcfad4" fill-opacity="0.72" stroke="#f8f6c8" stroke-opacity="0.35" stroke-width="1"/>
<circle cx="358.7" cy="213.5" r="26.3" fill="#fcfad4" fill-opacity="0.72" stroke="#f8f6c8" stroke-opacity="0.35" stroke-width="1"/>
<circle cx="560.3" cy="215.3" r="28.3" fill="none" stroke="#fff" stroke-opacity="0.6" stroke-width="1.3"/>
<circle cx="560.3" cy="215.3" r="27.4" fill="#f6cf58" fill-opacity="0.88" stroke="#e0b030" stroke-opacity="0.35" stroke-width="1"/>
<circle cx="376.3" cy="40.3" r="29.5" fill="none" stroke="#fff" stroke-opacity="0.6" stroke-width="1.3"/>
<circle cx="376.3" cy="40.3" r="28.599999999999998" fill="#f6cf58" fill-opacity="0.88" stroke="#e0b030" stroke-opacity="0.35" stroke-width="1"/>
<circle cx="381" cy="339.2" r="26.6" fill="none" stroke="#fff" stroke-opacity="0.6" stroke-width="1.3"/>
<circle cx="381" cy="339.2" r="25.7" fill="#f6cf58" fill-opacity="0.88" stroke="#e0b030" stroke-opacity="0.35" stroke-width="1"/>
<circle cx="452.8" cy="401" r="26.400000000000002" fill="none" stroke="#fff" stroke-opacity="0.6" stroke-width="1.3"/>
<circle cx="452.8" cy="401" r="25.5" fill="#f6cf58" fill-opacity="0.88" stroke="#e0b030" stroke-opacity="0.35" stroke-width="1"/>
<circle cx="478.4" cy="255.5" r="27.8" fill="none" stroke="#fff" stroke-opacity="0.6" stroke-width="1.3"/>
<circle cx="478.4" cy="255.5" r="26.9" fill="#f6cf58" fill-opacity="0.88" stroke="#e0b030" stroke-opacity="0.35" stroke-width="1"/>
<circle cx="516.5" cy="99.5" r="28.200000000000003" fill="none" stroke="#fff" stroke-opacity="0.6" stroke-width="1.3"/>
<circle cx="516.5" cy="99.5" r="27.3" fill="#f6b060" fill-opacity="0.88" stroke="#e09040" stroke-opacity="0.35" stroke-width="1"/>
<circle cx="374" cy="130.3" r="28.6" fill="none" stroke="#fff" stroke-opacity="0.6" stroke-width="1.3"/>
<circle cx="374" cy="130.3" r="27.7" fill="#f6b060" fill-opacity="0.88" stroke="#e09040" stroke-opacity="0.35" stroke-width="1"/>
<circle cx="515.4" cy="163" r="28.1" fill="none" stroke="#fff" stroke-opacity="0.6" stroke-width="1.3"/>
<circle cx="515.4" cy="163" r="27.2" fill="#f25f5d" fill-opacity="0.88" stroke="#d84040" stroke-opacity="0.35" stroke-width="1"/>
<circle cx="429.6" cy="68.4" r="29.200000000000003" fill="none" stroke="#fff" stroke-opacity="0.6" stroke-width="1.3"/>
<circle cx="429.6" cy="68.4" r="28.3" fill="#f25f5d" fill-opacity="0.88" stroke="#d84040" stroke-opacity="0.35" stroke-width="1"/>
<circle cx="253.3" cy="211.7" r="27.6" fill="none" stroke="#fff" stroke-opacity="0.6" stroke-width="1.3"/>
<circle cx="253.3" cy="211.7" r="26.7" fill="#f25f5d" fill-opacity="0.88" stroke="#d84040" stroke-opacity="0.35" stroke-width="1"/>
<circle cx="515.2" cy="25.8" r="29.8" fill="none" stroke="#fff" stroke-opacity="0.6" stroke-width="1.3"/>
<circle cx="515.2" cy="25.8" r="28.9" fill="#f25f5d" fill-opacity="0.88" stroke="#d84040" stroke-opacity="0.35" stroke-width="1"/>
<circle cx="301.5" cy="101" r="28.8" fill="none" stroke="#fff" stroke-opacity="0.6" stroke-width="1.3"/>
<circle cx="301.5" cy="101" r="27.9" fill="#ac546f" fill-opacity="0.88" stroke="#8a3050" stroke-opacity="0.35" stroke-width="1"/>
<rect x="269.6" y="314.9" width="21.3" height="11.8" fill="#fff" fill-opacity="0.55"/>
<rect x="265.9" y="328.8" width="28.8" height="9.2" fill="#fff" fill-opacity="0.55"/>
<text x="280.3" y="325.1" font-size="12" fill="#2b2f33" stroke="#2b2f33" stroke-width="0.35" text-anchor="middle">0%</text>
<text x="267.4" y="336.3" font-size="8.8" font-style="italic" fill="#262a2e" stroke="#262a2e" stroke-width="0.2" textLength="25.8" lengthAdjust="spacingAndGlyphs">28 km²</text>
<rect x="494.8" y="352.0" width="21.3" height="11.8" fill="#fff" fill-opacity="0.55"/>
<rect x="493.3" y="365.9" width="24.4" height="9.2" fill="#fff" fill-opacity="0.55"/>
<text x="505.5" y="362.2" font-size="12" fill="#2b2f33" stroke="#2b2f33" stroke-width="0.35" text-anchor="middle">0%</text>
<text x="494.8" y="373.4" font-size="8.8" font-style="italic" fill="#262a2e" stroke="#262a2e" stroke-width="0.2" textLength="21.4" lengthAdjust="spacingAndGlyphs">1 km²</text>
<rect x="439.7" y="284.6" width="21.3" height="11.8" fill="#fff" fill-opacity="0.55"/>
<rect x="433.8" y="298.5" width="33.2" height="9.2" fill="#fff" fill-opacity="0.55"/>
<text x="450.4" y="294.8" font-size="12" fill="#2b2f33" stroke="#2b2f33" stroke-width="0.35" text-anchor="middle">2%</text>
<text x="435.3" y="306.0" font-size="8.8" font-style="italic" fill="#262a2e" stroke="#262a2e" stroke-width="0.2" textLength="30.2" lengthAdjust="spacingAndGlyphs">152 km²</text>
<rect x="338.5" y="402.9" width="21.3" height="11.8" fill="#fff" fill-opacity="0.55"/>
<rect x="332.6" y="416.8" width="33.2" height="9.2" fill="#fff" fill-opacity="0.55"/>
<text x="349.2" y="413.1" font-size="12" fill="#2b2f33" stroke="#2b2f33" stroke-width="0.35" text-anchor="middle">4%</text>
<text x="334.1" y="424.3" font-size="8.8" font-style="italic" fill="#262a2e" stroke="#262a2e" stroke-width="0.2" textLength="30.2" lengthAdjust="spacingAndGlyphs">278 km²</text>
<rect x="314.2" y="243.9" width="21.3" height="11.8" fill="#fff" fill-opacity="0.55"/>
<rect x="308.3" y="257.8" width="33.2" height="9.2" fill="#fff" fill-opacity="0.55"/>
<text x="324.9" y="254.1" font-size="12" fill="#2b2f33" stroke="#2b2f33" stroke-width="0.35" text-anchor="middle">5%</text>
<text x="309.8" y="265.3" font-size="8.8" font-style="italic" fill="#262a2e" stroke="#262a2e" stroke-width="0.2" textLength="30.2" lengthAdjust="spacingAndGlyphs">360 km²</text>
<rect x="344.7" y="202.9" width="28.0" height="11.8" fill="#fff" fill-opacity="0.55"/>
<rect x="339.9" y="216.8" width="37.6" height="9.2" fill="#fff" fill-opacity="0.55"/>
<text x="358.7" y="213.1" font-size="12" fill="#2b2f33" stroke="#2b2f33" stroke-width="0.35" text-anchor="middle">19%</text>
<text x="341.4" y="224.3" font-size="8.8" font-style="italic" fill="#262a2e" stroke="#262a2e" stroke-width="0.2" textLength="34.6" lengthAdjust="spacingAndGlyphs">1503 km²</text>
<rect x="546.3" y="204.7" width="28.0" height="11.8" fill="#fff" fill-opacity="0.92"/>
<rect x="541.5" y="218.6" width="37.6" height="9.2" fill="#fff" fill-opacity="0.92"/>
<text x="560.3" y="214.9" font-size="12" fill="#2b2f33" stroke="#2b2f33" stroke-width="0.35" text-anchor="middle">33%</text>
<text x="543.0" y="226.1" font-size="8.8" font-style="italic" fill="#262a2e" stroke="#262a2e" stroke-width="0.2" textLength="34.6" lengthAdjust="spacingAndGlyphs">1783 km²</text>
<rect x="362.3" y="29.7" width="28.0" height="11.8" fill="#fff" fill-opacity="0.92"/>
<rect x="357.5" y="43.6" width="37.6" height="9.2" fill="#fff" fill-opacity="0.92"/>
<text x="376.3" y="39.9" font-size="12" fill="#2b2f33" stroke="#2b2f33" stroke-width="0.35" text-anchor="middle">37%</text>
<text x="359.0" y="51.1" font-size="8.8" font-style="italic" fill="#262a2e" stroke="#262a2e" stroke-width="0.2" textLength="34.6" lengthAdjust="spacingAndGlyphs">2427 km²</text>
<rect x="367.0" y="328.6" width="28.0" height="11.8" fill="#fff" fill-opacity="0.92"/>
<rect x="362.2" y="342.5" width="37.6" height="9.2" fill="#fff" fill-opacity="0.92"/>
<text x="381.0" y="338.8" font-size="12" fill="#2b2f33" stroke="#2b2f33" stroke-width="0.35" text-anchor="middle">37%</text>
<text x="363.7" y="350.0" font-size="8.8" font-style="italic" fill="#262a2e" stroke="#262a2e" stroke-width="0.2" textLength="34.6" lengthAdjust="spacingAndGlyphs">2873 km²</text>
<rect x="438.8" y="390.4" width="28.0" height="11.8" fill="#fff" fill-opacity="0.92"/>
<rect x="434.0" y="404.3" width="37.6" height="9.2" fill="#fff" fill-opacity="0.92"/>
<text x="452.8" y="400.6" font-size="12" fill="#2b2f33" stroke="#2b2f33" stroke-width="0.35" text-anchor="middle">37%</text>
<text x="435.5" y="411.8" font-size="8.8" font-style="italic" fill="#262a2e" stroke="#262a2e" stroke-width="0.2" textLength="34.6" lengthAdjust="spacingAndGlyphs">2902 km²</text>
<rect x="464.4" y="244.9" width="28.0" height="11.8" fill="#fff" fill-opacity="0.92"/>
<rect x="459.6" y="258.8" width="37.6" height="9.2" fill="#fff" fill-opacity="0.92"/>
<text x="478.4" y="255.1" font-size="12" fill="#2b2f33" stroke="#2b2f33" stroke-width="0.35" text-anchor="middle">39%</text>
<text x="461.1" y="266.3" font-size="8.8" font-style="italic" fill="#262a2e" stroke="#262a2e" stroke-width="0.2" textLength="34.6" lengthAdjust="spacingAndGlyphs">3041 km²</text>
<rect x="502.5" y="88.9" width="28.0" height="11.8" fill="#fff" fill-opacity="0.92"/>
<rect x="497.7" y="102.8" width="37.6" height="9.2" fill="#fff" fill-opacity="0.92"/>
<text x="516.5" y="99.1" font-size="12" fill="#2b2f33" stroke="#2b2f33" stroke-width="0.35" text-anchor="middle">47%</text>
<text x="499.2" y="110.3" font-size="8.8" font-style="italic" fill="#262a2e" stroke="#262a2e" stroke-width="0.2" textLength="34.6" lengthAdjust="spacingAndGlyphs">3629 km²</text>
<rect x="360.0" y="119.7" width="28.0" height="11.8" fill="#fff" fill-opacity="0.92"/>
<rect x="355.2" y="133.6" width="37.6" height="9.2" fill="#fff" fill-opacity="0.92"/>
<text x="374.0" y="129.9" font-size="12" fill="#2b2f33" stroke="#2b2f33" stroke-width="0.35" text-anchor="middle">56%</text>
<text x="356.7" y="141.1" font-size="8.8" font-style="italic" fill="#262a2e" stroke="#262a2e" stroke-width="0.2" textLength="34.6" lengthAdjust="spacingAndGlyphs">4422 km²</text>
<rect x="501.4" y="152.4" width="28.0" height="11.8" fill="#fff" fill-opacity="0.92"/>
<rect x="496.6" y="166.3" width="37.6" height="9.2" fill="#fff" fill-opacity="0.92"/>
<text x="515.4" y="162.6" font-size="12" fill="#2b2f33" stroke="#2b2f33" stroke-width="0.35" text-anchor="middle">62%</text>
<text x="498.1" y="173.8" font-size="8.8" font-style="italic" fill="#262a2e" stroke="#262a2e" stroke-width="0.2" textLength="34.6" lengthAdjust="spacingAndGlyphs">4851 km²</text>
<rect x="415.6" y="57.8" width="28.0" height="11.8" fill="#fff" fill-opacity="0.92"/>
<rect x="410.8" y="71.7" width="37.6" height="9.2" fill="#fff" fill-opacity="0.92"/>
<text x="429.6" y="68.0" font-size="12" fill="#2b2f33" stroke="#2b2f33" stroke-width="0.35" text-anchor="middle">69%</text>
<text x="412.3" y="79.2" font-size="8.8" font-style="italic" fill="#262a2e" stroke="#262a2e" stroke-width="0.2" textLength="34.6" lengthAdjust="spacingAndGlyphs">3832 km²</text>
<rect x="239.3" y="201.1" width="28.0" height="11.8" fill="#fff" fill-opacity="0.92"/>
<rect x="234.5" y="215.0" width="37.6" height="9.2" fill="#fff" fill-opacity="0.92"/>
<text x="253.3" y="211.3" font-size="12" fill="#2b2f33" stroke="#2b2f33" stroke-width="0.35" text-anchor="middle">75%</text>
<text x="236.0" y="222.5" font-size="8.8" font-style="italic" fill="#262a2e" stroke="#262a2e" stroke-width="0.2" textLength="34.6" lengthAdjust="spacingAndGlyphs">3373 km²</text>
<rect x="501.2" y="15.2" width="28.0" height="11.8" fill="#fff" fill-opacity="0.92"/>
<rect x="498.6" y="29.1" width="33.2" height="9.2" fill="#fff" fill-opacity="0.92"/>
<text x="515.2" y="25.4" font-size="12" fill="#2b2f33" stroke="#2b2f33" stroke-width="0.35" text-anchor="middle">78%</text>
<text x="500.1" y="36.6" font-size="8.8" font-style="italic" fill="#262a2e" stroke="#262a2e" stroke-width="0.2" textLength="30.2" lengthAdjust="spacingAndGlyphs">945 km²</text>
<rect x="287.5" y="90.4" width="28.0" height="11.8" fill="#fff" fill-opacity="0.92"/>
<rect x="282.7" y="104.3" width="37.6" height="9.2" fill="#fff" fill-opacity="0.92"/>
<text x="301.5" y="100.6" font-size="12" fill="#2b2f33" stroke="#2b2f33" stroke-width="0.35" text-anchor="middle">89%</text>
<text x="284.2" y="111.8" font-size="8.8" font-style="italic" fill="#262a2e" stroke="#262a2e" stroke-width="0.2" textLength="34.6" lengthAdjust="spacingAndGlyphs">4596 km²</text>
</svg></body></html>
